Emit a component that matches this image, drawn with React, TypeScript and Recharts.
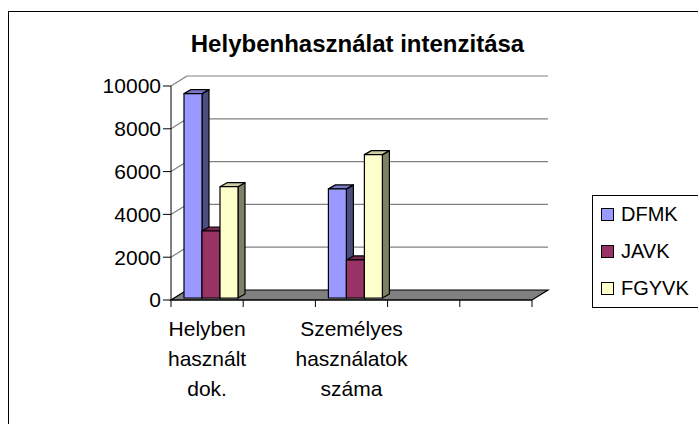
import { BarChart, Bar, XAxis, YAxis, CartesianGrid, Legend } from "recharts";

const categories = ["Helyben használt dok.", "", "Személyes használatok száma", "", ""];
const dfmk = [9550, null, 5100, null, null];
const javk = [3130, null, 1780, null, null];
const fgyvk = [5200, null, 6700, null, null];
const yTicks = [0, 2000, 4000, 6000, 8000, 10000];
const seriesNames = ["DFMK", "JAVK", "FGYVK"];
const seriesColors = ["#9999FF", "#993366", "#FFFFCC"];

const W = 698;
const H = 424;
const M = { top: 86, right: 166, bottom: 24, left: 111 };
const Y_AXIS_W = 60;
const X_AXIS_H = 100;
const PLOT_W = W - M.left - Y_AXIS_W - M.right;
const PLOT_BOTTOM = H - M.bottom - X_AXIS_H;

// depth of the walls / floor, and of each bar
const WALL_DX = 16;
const WALL_DY = 10;
const BAR_DX = 7;
const BAR_DY = 4;
const BAR_SHIFT_X = 4;
const BAR_SHIFT_Y = -2;

const FONT = "'Liberation Sans', Arial, sans-serif";

const data = categories.map((name, i) => ({
  id: i,
  name,
  DFMK: dfmk[i],
  JAVK: javk[i],
  FGYVK: fgyvk[i],
}));

function shade(hex: string, k: number) {
  const n = parseInt(hex.slice(1), 16);
  const r = Math.round(((n >> 16) & 255) * k);
  const g = Math.round(((n >> 8) & 255) * k);
  const b = Math.round((n & 255) * k);
  return `rgb(${r},${g},${b})`;
}

const Bar3D = (props: any) => {
  const { x, y, width, height, fill } = props;
  if (height == null || width == null || height <= 0) return <g />;
  const x0 = x + BAR_SHIFT_X;
  const y0 = y + BAR_SHIFT_Y;
  const w = width;
  const h = height;
  const top = `${x0},${y0} ${x0 + BAR_DX},${y0 - BAR_DY} ${x0 + w + BAR_DX},${y0 - BAR_DY} ${x0 + w},${y0}`;
  const side = `${x0 + w},${y0} ${x0 + w + BAR_DX},${y0 - BAR_DY} ${x0 + w + BAR_DX},${y0 + h - BAR_DY} ${x0 + w},${y0 + h}`;
  return (
    <g stroke="#000" strokeWidth={1.2} strokeLinejoin="round">
      <polygon points={side} fill={shade(fill, 0.5)} />
      <polygon points={top} fill={shade(fill, 0.8)} />
      <rect x={x0} y={y0} width={w} height={h} fill={fill} />
    </g>
  );
};

const WallLine = (p: any) => {
  const { x1, y1, x2, index } = p;
  const key = `wall-${index ?? y1}`;
  if (Math.abs(y1 - PLOT_BOTTOM) < 1) {
    const pts = `${x1},${y1} ${x2},${y1} ${x2 + WALL_DX},${y1 - WALL_DY} ${x1 + WALL_DX},${y1 - WALL_DY}`;
    return <polygon key={key} points={pts} fill="#808080" stroke="#000" strokeWidth={1.2} />;
  }
  return (
    <g key={key} stroke="#808080" strokeWidth={1.2}>
      <line x1={x1} y1={y1} x2={x1 + WALL_DX} y2={y1 - WALL_DY} />
      <line x1={x1 + WALL_DX} y1={y1 - WALL_DY} x2={x2 + WALL_DX} y2={y1 - WALL_DY} />
    </g>
  );
};

const CatTick = (p: any) => {
  const { x, y, index } = p;
  const bw = PLOT_W / categories.length;
  const label = categories[index] || "";
  const words = label ? label.split(" ") : [];
  return (
    <g>
      <line x1={x - bw / 2} y1={y} x2={x - bw / 2} y2={y + 7} stroke="#000" />
      {index === categories.length - 1 && (
        <line x1={x + bw / 2} y1={y} x2={x + bw / 2} y2={y + 7} stroke="#000" />
      )}
      {words.length > 0 && (
        <text textAnchor="middle" fontSize={21} fill="#000" fontFamily={FONT}>
          {words.map((w, i) => (
            <tspan key={i} x={x} y={y + 36 + i * 30}>
              {w}
            </tspan>
          ))}
        </text>
      )}
    </g>
  );
};

const LegendBox = () => (
  <div
    style={{
      border: "1px solid #000",
      width: 130,
      height: 113,
      boxSizing: "border-box",
      background: "#fff",
      fontFamily: FONT,
    }}
  >
    {seriesNames.map((n, i) => (
      <div key={n} style={{ height: 37, display: "flex", alignItems: "center", paddingLeft: 8 }}>
        <span
          style={{
            width: 11,
            height: 11,
            border: "1px solid #000",
            background: seriesColors[i],
            display: "inline-block",
          }}
        />
        <span style={{ marginLeft: 7, fontSize: 20, color: "#000" }}>{n}</span>
      </div>
    ))}
  </div>
);

export default function App() {
  return (
    <div
      style={{
        position: "fixed",
        left: 0,
        top: 0,
        width: W,
        height: H,
        overflow: "hidden",
        background: "#fff",
        fontFamily: FONT,
      }}
    >
      <div
        style={{
          position: "absolute",
          left: 8,
          top: 11,
          width: 720,
          height: 440,
          border: "1px solid #000",
        }}
      />
      <div
        style={{
          position: "absolute",
          left: 0,
          top: 30,
          width: 715,
          textAlign: "center",
          fontSize: 24,
          fontWeight: "bold",
          color: "#000",
          whiteSpace: "nowrap",
        }}
      >
        Helybenhasználat intenzitása
      </div>
      <div style={{ position: "absolute", left: 0, top: 0 }}>
        <BarChart width={W} height={H} data={data} margin={M} barSize={18} barGap={0}>
          <CartesianGrid vertical={false} horizontal={WallLine} />
          <XAxis
            dataKey="id"
            height={X_AXIS_H}
            interval={0}
            tickSize={0}
            tickMargin={0}
            tickLine={false}
            axisLine={{ stroke: "#000" }}
            tick={CatTick}
          />
          <YAxis
            width={Y_AXIS_W}
            domain={[0, 10000]}
            ticks={yTicks}
            interval={0}
            tickSize={8}
            tickLine={{ stroke: "#000" }}
            axisLine={{ stroke: "#000" }}
            tick={{ fill: "#000", fontSize: 21, fontFamily: FONT }}
          />
          <Legend
            layout="vertical"
            align="center"
            verticalAlign="middle"
            content={LegendBox}
            wrapperStyle={{ left: 592, top: 195, width: 140 }}
          />
          {seriesNames.map((n, i) => (
            <Bar key={n} dataKey={n} fill={seriesColors[i]} shape={Bar3D} isAnimationActive={false} />
          ))}
        </BarChart>
      </div>
    </div>
  );
}
